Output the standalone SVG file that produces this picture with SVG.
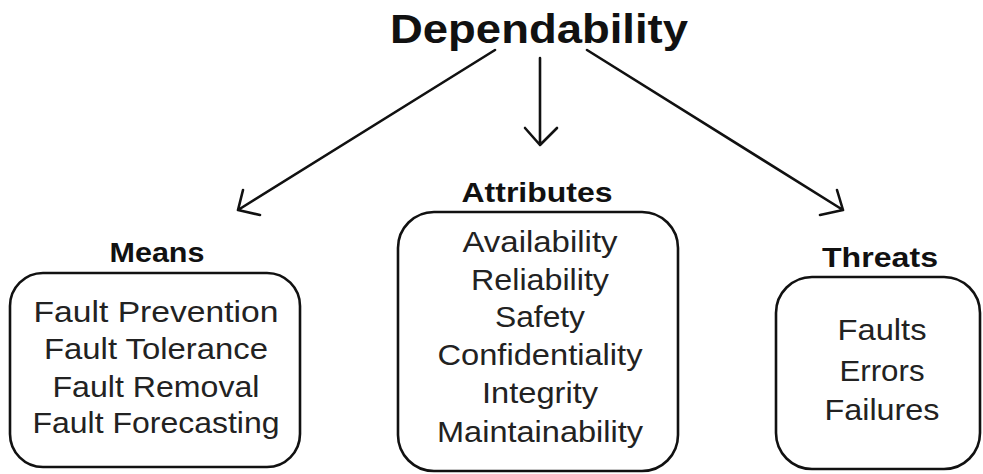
<svg xmlns="http://www.w3.org/2000/svg" width="983" height="474" viewBox="0 0 983 474">
<style>
.box{fill:#fff;stroke:#111;stroke-width:2.6}
.t{font-family:"Liberation Sans",Arial,sans-serif;fill:#222;text-anchor:middle}
.b{font-weight:bold;font-size:28px;fill:#111}
.r{font-size:30px}
.h{font-weight:bold;font-size:41px;fill:#111}
.c{fill:none;stroke:#111;stroke-width:2.6;stroke-linecap:round;stroke-linejoin:round}
</style>
<rect width="983" height="474" fill="#fff"/>
<g id="dependability">
<text class="t h" x="539" y="43" textLength="298" lengthAdjust="spacingAndGlyphs">Dependability</text>
</g>
<g id="means">
<text class="t b" x="157" y="262" textLength="95" lengthAdjust="spacingAndGlyphs">Means</text>
<rect class="box" x="10" y="273" width="290" height="194" rx="33"/>
<text class="t r" x="156" y="322" textLength="245" lengthAdjust="spacingAndGlyphs">Fault Prevention</text>
<text class="t r" x="156" y="359" textLength="224" lengthAdjust="spacingAndGlyphs">Fault Tolerance</text>
<text class="t r" x="156" y="397" textLength="207" lengthAdjust="spacingAndGlyphs">Fault Removal</text>
<text class="t r" x="156" y="433" textLength="247" lengthAdjust="spacingAndGlyphs">Fault Forecasting</text>
</g>
<g id="attributes">
<text class="t b" x="537" y="202" textLength="151" lengthAdjust="spacingAndGlyphs">Attributes</text>
<rect class="box" x="398" y="212" width="280" height="259" rx="36"/>
<text class="t r" x="540" y="252" textLength="155" lengthAdjust="spacingAndGlyphs">Availability</text>
<text class="t r" x="540" y="290" textLength="138" lengthAdjust="spacingAndGlyphs">Reliability</text>
<text class="t r" x="540" y="327" textLength="90" lengthAdjust="spacingAndGlyphs">Safety</text>
<text class="t r" x="540" y="365" textLength="205" lengthAdjust="spacingAndGlyphs">Confidentiality</text>
<text class="t r" x="540" y="403" textLength="116" lengthAdjust="spacingAndGlyphs">Integrity</text>
<text class="t r" x="540" y="442" textLength="206" lengthAdjust="spacingAndGlyphs">Maintainability</text>
</g>
<g id="threats">
<text class="t b" x="880" y="267" textLength="116" lengthAdjust="spacingAndGlyphs">Threats</text>
<rect class="box" x="776" y="277" width="204" height="192" rx="36"/>
<text class="t r" x="882" y="340" textLength="89" lengthAdjust="spacingAndGlyphs">Faults</text>
<text class="t r" x="882" y="381" textLength="85" lengthAdjust="spacingAndGlyphs">Errors</text>
<text class="t r" x="882" y="420" textLength="115" lengthAdjust="spacingAndGlyphs">Failures</text>
</g>
<g id="connectors">
<path class="c" d="M495 50 L238 210 M243 190 L238 210 L260 215"/>
<path class="c" d="M540 58 L540 145 M525 128 L540 145 L557 128"/>
<path class="c" d="M587 50 L843 210 M837 190 L843 210 L820 215"/>
</g>
</svg>
